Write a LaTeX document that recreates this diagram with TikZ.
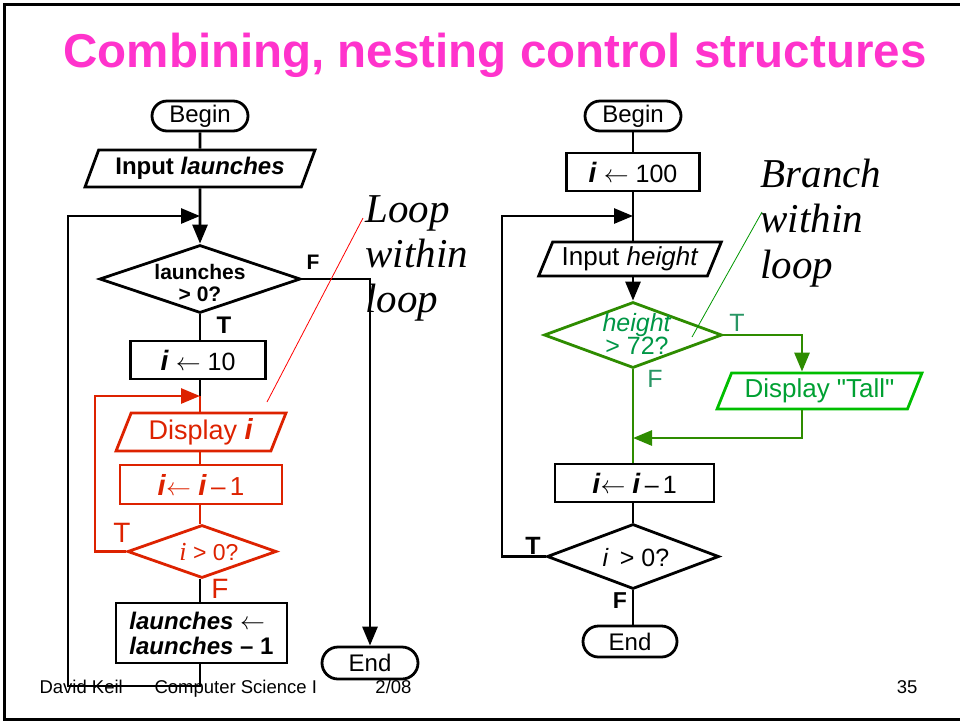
\documentclass[tikz,border=0pt]{standalone}
\usepackage{fontspec}
\setmainfont{Liberation Serif}
\setsansfont{Liberation Sans}
% sans family that keeps straight quotes as typed
\newfontfamily\qsans{Liberation Sans}[Ligatures=TeXOff]
\usetikzlibrary{shapes.geometric,shapes.misc,arrows.meta}

\definecolor{titlemag}{RGB}{255,51,204}
\definecolor{loopred}{RGB}{221,34,0}
\definecolor{brgreen}{RGB}{46,140,0}
\definecolor{brtext}{RGB}{0,150,70}
\definecolor{tallgreen}{RGB}{0,190,0}
\definecolor{talltext}{RGB}{0,160,50}
\definecolor{tflabel}{RGB}{40,150,100}
\definecolor{notered}{RGB}{255,0,0}
\definecolor{notegreen}{RGB}{0,150,0}

% bold italic serif loop variable
\newcommand{\ivar}{\textbf{\textit{i}}}

\tikzset{
  wire/.style={line width=2.8pt, line join=miter},
  arr/.style={-{Triangle[length=19pt,width=15pt]}},
  term/.style={rounded rectangle, draw, line width=2.8pt, minimum width=96pt,
    minimum height=30pt, inner sep=0pt, font=\sffamily\fontsize{24}{26}\selectfont},
  procbox/.style={rectangle, draw, line width=2.8pt, inner sep=0pt},
  iobox/.style={trapezium, trapezium left angle=63, trapezium right angle=117,
    trapezium stretches=true, draw, line width=2.8pt, inner sep=0pt},
  decide/.style={diamond, draw, line width=2.8pt, inner sep=0pt},
  bsans/.style={font=\sffamily\bfseries\fontsize{#1}{#1}\selectfont},
  rsans/.style={font=\sffamily\fontsize{#1}{#1}\selectfont},
  note/.style={anchor=base west, font=\itshape\fontsize{41}{45}\selectfont},
}

\begin{document}
\begin{tikzpicture}[x=1pt,y=-1pt]
\useasboundingbox (0,0) rectangle (960,721);

% slide frame
\draw[line width=2.5pt] (960,4.5) -- (4.5,4.5) -- (4.5,719.5) -- (960,719.5);

% title
\node[anchor=base, font=\sffamily\bfseries\fontsize{47.5}{50}\selectfont, text=titlemag]
  (title) at (495,67) {Combining, nesting control structures};

% footer
\node[anchor=base west, rsans=18.5] (foot1) at (36,693) {David Keil};
\node[anchor=base west, rsans=18.5] (foot2) at (151,693) {Computer Science I};
\node[anchor=base east, rsans=18.5] (foot3) at (415,693) {2/08};
\node[anchor=base east, rsans=18.5] (pageno) at (921,693) {35};

% ---------------- left chart: loop within loop ----------------
\node[term] (b1) at (200,116) {Begin};
\node[iobox, minimum width=230pt, minimum height=37pt, bsans=24] (in1) at (200,168.5)
  {Input \textit{launches}};
\node[decide, minimum width=201pt, minimum height=68pt] (d1) at (200,279) {};
\node[bsans=21, align=center, inner sep=0pt] (d1t) at (200,283)
  {launches\\[1pt]> 0?};
\node[procbox, minimum width=135pt, minimum height=38pt, rsans=25] (bx1) at (198,360)
  {{\fontsize{28}{28}\selectfont\ivar} {\fontsize{27}{27}\selectfont$\leftarrow$} 10};

\coordinate (j1) at (200,216);
\coordinate (j2) at (200,396);
\coordinate (rl) at (95,396);
\coordinate (lb) at (68,686);
\coordinate (lt) at (68,216);

\node[iobox, draw=loopred, trapezium left angle=67, trapezium right angle=113,
  minimum width=170pt, minimum height=38pt, rsans=27, text=loopred] (dsp) at (201,432)
  {Display {\fontsize{29}{29}\selectfont\ivar}};
\node[procbox, draw=loopred, minimum width=162pt, minimum height=39pt, rsans=26,
  text=loopred] (bx2) at (201,484.5)
  {{\fontsize{29}{29}\selectfont\ivar}{\fontsize{27}{27}\selectfont$\leftarrow$}\ {\fontsize{29}{29}\selectfont\ivar}\,--\,1};
\node[decide, draw=loopred, minimum width=149pt, minimum height=53pt] (d2) at (202,551.5) {};
\node[rsans=23, text=loopred, inner sep=0pt] (d2t) at (209,552)
  {{\rmfamily\itshape\fontsize{26}{26}\selectfont i} > 0?};
\node[procbox, minimum width=171pt, minimum height=60pt, bsans=24, align=left] (bx3) at (201.5,633)
  {\textit{launches} {\fontsize{27}{27}\selectfont$\leftarrow$}\\[1pt]\textit{launches} -- 1};
\node[term, minimum height=32pt] (e1) at (370,663) {End};

% left connectors
\draw[wire] (b1) -- (in1);
\draw[wire,arr] (in1.south) -- (d1.north);
\draw[wire] (d1.south) -- (d1.south |- bx1.north);
\draw[wire] (d1.south |- bx1.south) -- (j2);
\draw[wire,loopred] (j2) -- (dsp.north -| j2);
\draw[wire,loopred] (dsp.south -| j2) -- (bx2.north -| j2);
\draw[wire,loopred] (bx2.south -| j2) -- (d2.north -| j2);
\draw[wire,loopred,arr] (d2.west) -| (rl) -- (j2);
\draw[wire] (d2.south -| j2) -- (bx3.north -| j2);
\draw[wire,arr] (bx3.south -| j2) -- (j2 |- lb) -| (lt) -- (j1);
\draw[wire,arr] (d1.east) -| (e1.north);

% left branch labels
\node[bsans=21] (lf1) at (313,262) {F};
\node[bsans=24] (lt1) at (224,325) {T};
\node[rsans=28, text=loopred] (lt2) at (122,533) {T};
\node[rsans=28, text=loopred] (lf2) at (220,589) {F};

% ---------------- right chart: branch within loop ----------------
\node[term] (b2) at (633,116) {Begin};
\node[procbox, minimum width=133pt, minimum height=38pt, rsans=25] (bx4) at (633,172)
  {{\fontsize{28}{28}\selectfont\ivar} {\fontsize{27}{27}\selectfont$\leftarrow$} 100};
\coordinate (j3) at (633,216);
\coordinate (rb) at (502,216);
\node[iobox, minimum width=183pt, minimum height=34pt, rsans=26] (in2) at (630,259)
  {Input \textit{height}};
\node[decide, draw=brgreen, minimum width=178pt, minimum height=66pt] (d3) at (633,335) {};
\node[rsans=25, text=brtext, align=center, inner sep=0pt] (d3t) at (637,334)
  {\textit{height}\\[-2pt]> 72?};
\node[iobox, draw=tallgreen, minimum width=205pt, minimum height=36pt,
  font=\qsans\fontsize{26}{26}\selectfont, text=talltext] (dt) at (819.5,391)
  {Display "Tall"};
\coordinate (tcol) at (802,391);
\coordinate (m1) at (633,438);
\node[procbox, minimum width=159pt, minimum height=38pt, rsans=25] (bx5) at (634.5,483)
  {{\fontsize{28}{28}\selectfont\ivar}{\fontsize{27}{27}\selectfont$\leftarrow$}\ {\fontsize{28}{28}\selectfont\ivar}\,--\,1};
\node[decide, minimum width=172pt, minimum height=65pt] (d4) at (633,556.5) {};
\node[rsans=25, inner sep=0pt] (d4t) at (636,558) {\textit{i} \,> 0?};
\node[term, minimum width=94pt, minimum height=31pt] (e2) at (630,641.5) {End};

% right connectors
\draw[wire] (b2.south -| j3) -- (bx4.north -| j3);
\draw[wire] (bx4.south -| j3) -- (in2.north -| j3);
\draw[wire,arr] (in2.south -| j3) -- (d3.north);
\draw[wire,brgreen,arr] (d3.east) -| (dt.north -| tcol);
\draw[wire,brgreen,arr] (dt.south -| tcol) |- (m1);
\draw[wire,brgreen] (d3.south) -- (bx5.north -| d3.south);
\draw[wire] (bx5.south -| d4.north) -- (d4.north);
\draw[wire] (d4.south) -- (e2.north -| d4.south);
\draw[wire,arr] (d4.west) -| (rb) -- (j3);

% right branch labels
\node[rsans=25, text=tflabel] (rt1) at (737,323) {T};
\node[rsans=25, text=tflabel] (rf1) at (655,379) {F};
\node[bsans=25] (rt2) at (533,546) {T};
\node[bsans=23] (rf2) at (620,601) {F};

% ---------------- annotations ----------------
\node[note] (n1) at (362,222) {Loop};
\node[note] (n2) at (362,267) {within};
\node[note] (n3) at (362,312) {loop};
\coordinate (n1a) at (363,218);
\coordinate (n1b) at (267,402);
\draw[notered, line width=0.8pt] (n1a) -- (n1b);

\node[note] (m1n) at (757,187) {Branch};
\node[note] (m2n) at (757,232) {within};
\node[note] (m3n) at (757,278) {loop};
\coordinate (n2a) at (762,212);
\coordinate (n2b) at (692,337);
\draw[notegreen, line width=0.8pt] (n2a) -- (n2b);
\end{tikzpicture}
\end{document}
